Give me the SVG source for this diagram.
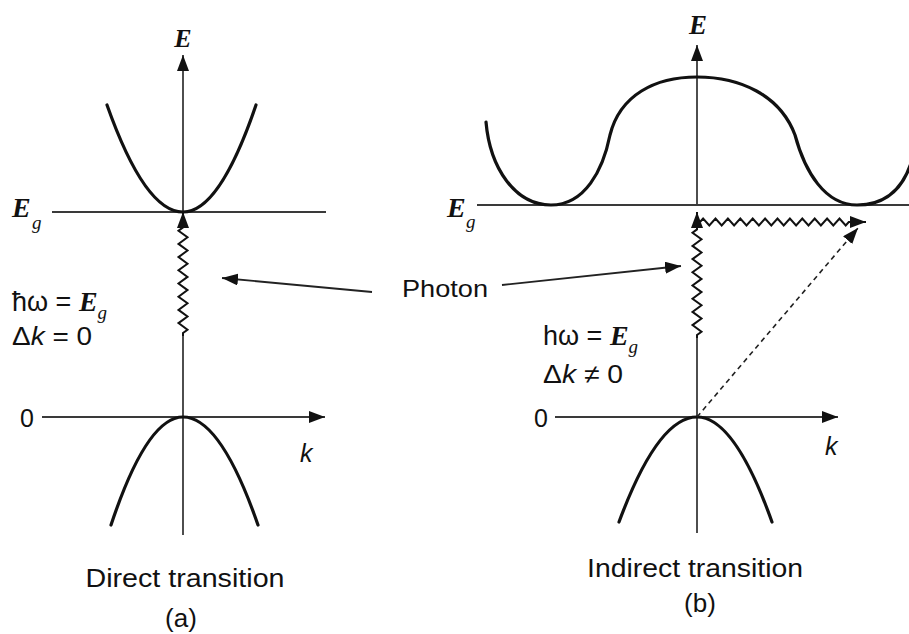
<svg xmlns="http://www.w3.org/2000/svg" width="909" height="634" viewBox="0 0 909 634">
<defs>
<style>
.axis{stroke:#3a3a3a;stroke-width:1.8;fill:none}
.band{stroke:#111;stroke-width:3.2;fill:none;stroke-linecap:round}
.wave{stroke:#111;stroke-width:2;fill:none;stroke-linejoin:miter}
.ptr{stroke:#222;stroke-width:1.8;fill:none}
.dash{stroke:#222;stroke-width:1.6;fill:none;stroke-dasharray:5 4}
.mathE{font-family:"Liberation Serif",serif;font-style:italic;font-weight:bold;fill:#111}
.sub{font-family:"Liberation Serif",serif;font-style:italic;fill:#111;font-size:19px}
.sans{font-family:"Liberation Sans",Arial,sans-serif;fill:#111}
.it{font-style:italic}
</style>
<marker id="ah" viewBox="0 0 16 12" refX="16" refY="6" markerWidth="16" markerHeight="12" markerUnits="userSpaceOnUse" orient="auto">
<path d="M0,0 L16,6 L0,12 z" fill="#111"/>
</marker>
</defs>
<rect width="909" height="634" fill="#fff"/>

<g id="panel-a">
<g id="a-axes">
<path class="axis" d="M183,212 L183,55" marker-end="url(#ah)"/>
<path class="axis" d="M183,333 L183,535"/>
<path class="axis" d="M52,212 L326,212"/>
<path class="axis" d="M42,417 L325,417" marker-end="url(#ah)"/>
</g>
<g id="a-conduction-band"><path class="band" d="M107,105 Q145,212 183,212 Q219.5,212 256,105"/></g>
<g id="a-valence-band"><path class="band" d="M111,525 Q147,417 183,417 Q220.5,417 258,525"/></g>
<g id="a-labels">
<text class="mathE" x="183" y="47" font-size="26" text-anchor="middle">E</text>
<text class="mathE" x="12" y="217" font-size="28">E</text>
<text class="sub" x="32" y="229">g</text>
<text class="sans" x="34" y="427" font-size="25" text-anchor="end">0</text>
<text class="sans it" x="300" y="462" font-size="25">k</text>
<text x="12" y="311" font-size="27"><tspan class="sans">ħω = </tspan><tspan class="mathE" font-size="28">E</tspan><tspan class="sub" dy="8">g</tspan></text>
<text class="sans" x="12" y="345" font-size="26" textLength="80" lengthAdjust="spacingAndGlyphs">Δ<tspan class="it">k</tspan> = 0</text>
<text class="sans" x="185" y="587" font-size="26" text-anchor="middle" textLength="199" lengthAdjust="spacingAndGlyphs">Direct transition</text>
<text class="sans" x="181" y="627" font-size="26" text-anchor="middle">(a)</text>
</g>
</g>

<g id="panel-b">
<g id="b-axes">
<path class="axis" d="M697,205 L697,45" marker-end="url(#ah)"/>
<path class="axis" d="M697,335 L697,533"/>
<path class="axis" d="M477,205 L909,205"/>
<path class="axis" d="M555,417 L838,417" marker-end="url(#ah)"/>
</g>
<g id="b-conduction-band"><path class="band" d="M486,122 C490,168 515,205 551,205 C585,205 603,170 610,135 C620,95 655,77 697,77 C740,77 780,95 795,135 C805,172 825,205 857,205 C885,205 903,190 912,160"/></g>
<g id="b-valence-band"><path class="band" d="M619,522 Q658,417 697,417 Q734.5,417 772,522"/></g>
<g id="b-labels">
<text class="mathE" x="698" y="34" font-size="27" text-anchor="middle">E</text>
<text class="mathE" x="447" y="217" font-size="28">E</text>
<text class="sub" x="466" y="228">g</text>
<text class="sans" x="548" y="427" font-size="25" text-anchor="end">0</text>
<text class="sans it" x="825" y="455" font-size="25">k</text>
<text x="543" y="345" font-size="27"><tspan class="sans">hω = </tspan><tspan class="mathE" font-size="28">E</tspan><tspan class="sub" dy="8">g</tspan></text>
<text class="sans" x="543" y="383" font-size="26" textLength="80" lengthAdjust="spacingAndGlyphs">Δ<tspan class="it">k</tspan> ≠ 0</text>
<text class="sans" x="695" y="577" font-size="26" text-anchor="middle" textLength="216" lengthAdjust="spacingAndGlyphs">Indirect transition</text>
<text class="sans" x="700" y="612" font-size="26" text-anchor="middle">(b)</text>
</g>
</g>

<g id="photon-label">
<text class="sans" x="402" y="297" font-size="24" textLength="86" lengthAdjust="spacingAndGlyphs">Photon</text>
</g>

<g id="connectors">
<path class="ptr" d="M372,292 L222,278" marker-end="url(#ah)"/>
<path class="ptr" d="M502,285 L681,266" marker-end="url(#ah)"/>
<path class="wave" d="M183,336 L183,333 l4.5,-3.3 l-9,-6.6 l9,-6.6 l-9,-6.6 l9,-6.6 l-9,-6.6 l9,-6.6 l-9,-6.6 l9,-6.6 l-9,-6.6 l9,-6.6 l-9,-6.6 l9,-6.6 l-9,-6.6 l9,-6.6 l-9,-6.6 l4.5,-3.3 L183,212" marker-end="url(#ah)"/>
<path class="wave" d="M697,338 L697,335 l4.5,-3.3 l-9,-6.6 l9,-6.6 l-9,-6.6 l9,-6.6 l-9,-6.6 l9,-6.6 l-9,-6.6 l9,-6.6 l-9,-6.6 l9,-6.6 l-9,-6.6 l9,-6.6 l-9,-6.6 l9,-6.6 l-9,-6.6 l4.5,-3.3 L697,212" marker-end="url(#ah)"/>
<path class="wave" d="M700,222 l3.1,-3.5 l6.2,7 l6.2,-7 l6.2,7 l6.2,-7 l6.2,7 l6.2,-7 l6.2,7 l6.2,-7 l6.2,7 l6.2,-7 l6.2,7 l6.2,-7 l6.2,7 l6.2,-7 l6.2,7 l6.2,-7 l6.2,7 l6.2,-7 l6.2,7 l6.2,-7 l6.2,7 l6.2,-7 l6.2,7 l3.1,-3.5 L866,222" marker-end="url(#ah)"/>
<path class="dash" d="M697,417 L858,228" marker-end="url(#ah)"/>
</g>
</svg>
